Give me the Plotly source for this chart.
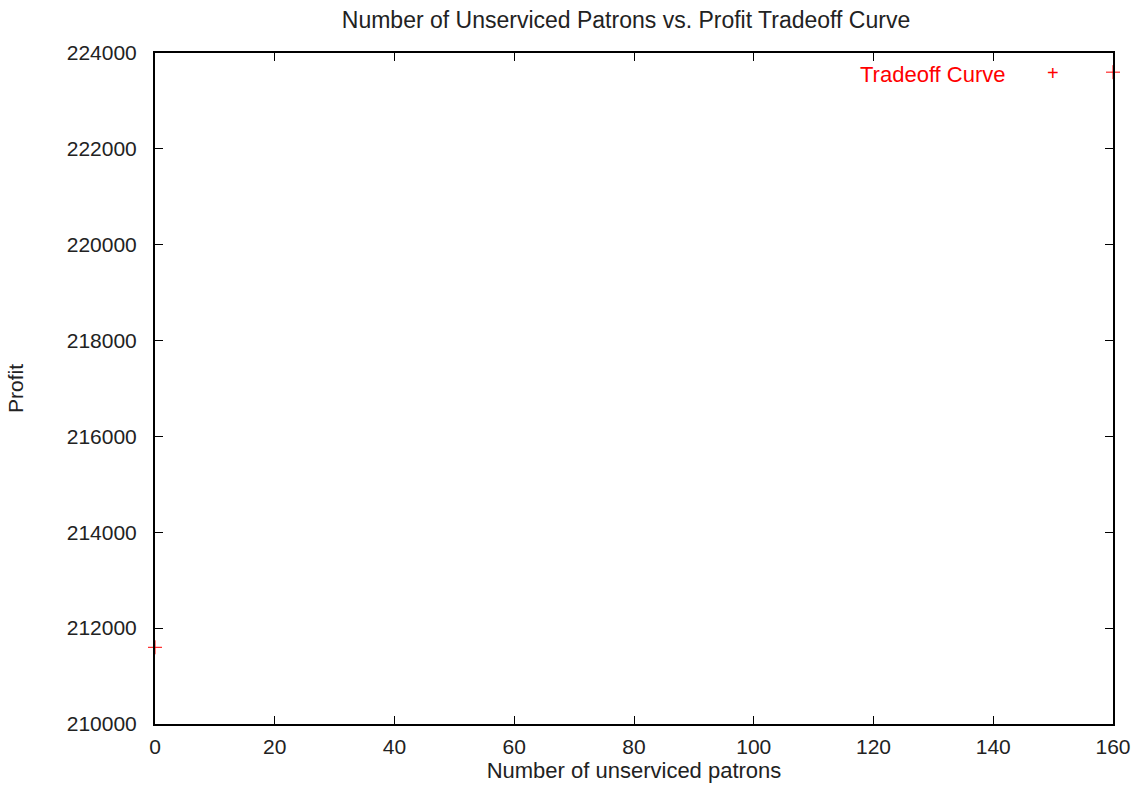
import plotly.graph_objects as go

# Data
unserviced = [0, 160]
profit = [211600, 223600]
x_ticks = [0, 20, 40, 60, 80, 100, 120, 140, 160]
y_ticks = [210000, 212000, 214000, 216000, 218000, 220000, 222000, 224000]

FONT = "Liberation Sans, Arial, sans-serif"
RED = "#ff0000"

fig = go.Figure()
fig.add_trace(go.Scatter(
    x=unserviced, y=profit, mode="markers", name="Tradeoff Curve",
    marker=dict(symbol="cross-thin", size=10, line=dict(color=RED, width=1), color=RED),
    cliponaxis=False, showlegend=False,
))

axis_common = dict(
    showgrid=False, zeroline=False, showline=True, linecolor="black", linewidth=2,
    mirror="ticks", ticks="inside", ticklen=8, tickwidth=1, tickcolor="black",
    tickfont=dict(family=FONT, size=21, color="#222222"),
)
fig.update_xaxes(range=[0, 160], tickvals=x_ticks, ticklabelstandoff=3, **axis_common,
                 title=dict(text="Number of unserviced patrons",
                            font=dict(family=FONT, size=22, color="#222222"), standoff=4))
fig.update_yaxes(range=[210000, 224000], tickvals=y_ticks, tickformat="d",
                 ticklabelstandoff=12, **axis_common,
                 title=dict(text="Profit", font=dict(family=FONT, size=21, color="#222222"),
                            standoff=37))

fig.add_annotation(x=0.8904, y=0.9687, xref="paper", yref="paper",
                   text="Tradeoff Curve", showarrow=False, xanchor="right", yanchor="middle",
                   font=dict(family=FONT, size=22, color=RED))
fig.add_annotation(x=0.9374, y=0.970, xref="paper", yref="paper",
                   text="+", showarrow=False, xanchor="center", yanchor="middle",
                   font=dict(family=FONT, size=20, color=RED))

fig.update_layout(
    width=1143, height=794,
    margin=dict(l=155, r=30, t=53, b=70),
    paper_bgcolor="white", plot_bgcolor="white",
    title=dict(text="Number of Unserviced Patrons vs. Profit Tradeoff Curve",
               x=626 / 1143, xanchor="center", y=1 - 20 / 794, yanchor="middle",
               font=dict(family=FONT, size=23, color="#222222")),
)

fig.write_html("out.html", config={"displayModeBar": False},
               post_script="document.body.style.margin='0';")
